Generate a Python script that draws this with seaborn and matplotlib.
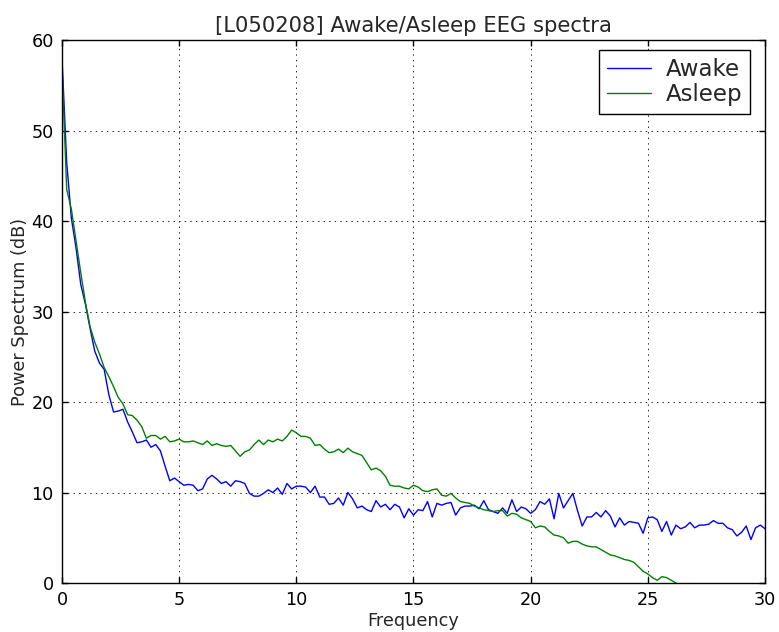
import matplotlib
matplotlib.use('Agg')
import numpy as np
import pandas as pd
import matplotlib.pyplot as plt
import seaborn as sns

# frequency grid, 0.2 Hz spacing
freqs = np.round(np.arange(0, 151) * 0.2, 1)

awake = [
    58.0, 46.5, 40.3, 37.0, 33.0, 30.8, 28.1, 25.6, 24.3, 23.6,
    20.8, 18.9, 19.0, 19.2, 17.8, 16.7, 15.5, 15.6, 15.8, 15.0,
    15.3, 14.6, 12.9, 11.3, 11.6, 11.2, 10.8, 10.9, 10.8, 10.2,
    10.4, 11.5, 11.9, 11.5, 11.0, 11.2, 10.7, 11.3, 11.2, 11.0,
    9.9, 9.6, 9.6, 9.9, 10.3, 10.0, 10.5, 9.8, 11.0, 10.4,
    10.7, 10.7, 10.6, 10.0, 10.7, 9.5, 9.5, 8.7, 8.8, 9.4,
    8.6, 10.0, 9.3, 8.3, 8.5, 8.1, 7.9, 9.1, 8.4, 8.7,
    8.1, 8.7, 8.4, 7.2, 8.2, 7.5, 8.1, 8.0, 9.0, 7.3,
    8.8, 8.6, 8.8, 8.9, 7.5, 8.3, 8.5, 8.5, 8.6, 8.2,
    9.1, 8.1, 7.9, 7.7, 8.3, 7.7, 9.2, 7.9, 8.4, 8.2,
    7.7, 8.1, 9.0, 8.7, 9.3, 7.1, 9.9, 8.3, 9.1, 9.9,
    8.0, 6.3, 7.3, 7.3, 7.8, 7.3, 8.0, 7.4, 6.2, 7.2,
    6.4, 6.8, 6.7, 6.6, 5.5, 7.2, 7.3, 7.0, 5.7, 6.8,
    5.3, 6.4, 6.0, 6.2, 6.7, 6.1, 6.4, 6.4, 6.5, 6.9,
    6.6, 6.6, 6.1, 5.9, 5.2, 5.6, 6.3, 4.8, 6.1, 6.4,
    6.0,
]

asleep = [
    57.0, 43.5, 41.3, 37.8, 34.3, 31.0, 28.3, 26.6, 25.3, 23.8,
    22.8, 21.7, 20.5, 19.8, 18.6, 18.5, 18.0, 17.3, 16.0, 16.3,
    16.3, 15.9, 16.2, 15.6, 15.7, 15.9, 15.6, 15.6, 15.7, 15.5,
    15.3, 15.7, 15.2, 15.4, 15.2, 15.1, 15.2, 14.6, 14.0, 14.5,
    14.7, 15.3, 15.8, 15.3, 15.8, 15.6, 15.9, 15.7, 16.2, 16.9,
    16.6, 16.2, 16.2, 16.0, 15.2, 15.3, 14.8, 14.4, 14.5, 14.8,
    14.4, 14.9, 14.5, 14.3, 14.1, 13.3, 12.5, 12.7, 12.4, 11.8,
    10.8, 10.7, 10.7, 10.5, 10.4, 10.8, 10.6, 10.2, 10.1, 10.3,
    10.4, 9.7, 9.6, 9.9, 9.4, 9.0, 8.9, 8.8, 8.5, 8.3,
    8.1, 8.0, 7.9, 8.0, 8.0, 7.4, 7.7, 7.6, 7.2, 7.0,
    6.8, 6.1, 6.3, 6.2, 5.7, 5.3, 5.2, 5.0, 4.4, 4.6,
    4.6, 4.3, 4.1, 4.0, 4.0, 3.7, 3.4, 3.1, 3.0, 2.8,
    2.6, 2.5, 2.3, 1.8, 1.3, 1.0, 0.6, 0.3, 0.7, 0.6,
    0.3, 0.0, -0.5, -0.8, -1.2, -1.6,
]

df = pd.concat([
    pd.DataFrame({'freq': freqs[:len(awake)], 'power': awake, 'state': 'Awake'}),
    pd.DataFrame({'freq': freqs[:len(asleep)], 'power': asleep, 'state': 'Asleep'}),
])

sns.set_style("ticks")
plt.rcParams['font.family'] = ['DejaVu Sans']
plt.rcParams['font.size'] = 12.7
plt.rcParams['lines.scale_dashes'] = False

fig = plt.figure(figsize=(7.79, 6.32), dpi=100)
ax = fig.add_axes([0.0796, 0.0775, 0.9024, 0.8592])

sns.lineplot(data=df, x='freq', y='power', hue='state',
             palette={'Awake': '#0000ff', 'Asleep': '#008000'},
             linewidth=1.0, ax=ax, sort=False, estimator=None)

ax.set_xlim(0, 30)
ax.set_ylim(0, 60)
ax.set_xticks([0, 5, 10, 15, 20, 25, 30])
ax.set_yticks([0, 10, 20, 30, 40, 50, 60])
ax.grid(True, color='black', linestyle=(0, (1, 3)), linewidth=0.6)
ax.tick_params(direction='in', length=4, width=1, top=True, right=True,
               labelsize=12.7, colors='black', pad=6)
for s in ax.spines.values():
    s.set_visible(True)
    s.set_color('black')
    s.set_linewidth(1.0)

ax.set_title('[L050208] Awake/Asleep EEG spectra', fontsize=15.2)
ax.set_xlabel('Frequency', fontsize=12.7, labelpad=2)
ax.set_ylabel('Power Spectrum (dB)', fontsize=12.7, labelpad=2)

leg = ax.legend(loc='upper right', bbox_to_anchor=(0.979, 0.982),
                fontsize=16.5, fancybox=False, framealpha=1,
                edgecolor='black', borderaxespad=0,
                labelspacing=0.1, handlelength=1.9, handletextpad=0.65,
                borderpad=0.35)
leg.get_frame().set_linewidth(1.0)

fig.savefig('out.png', dpi=100)
